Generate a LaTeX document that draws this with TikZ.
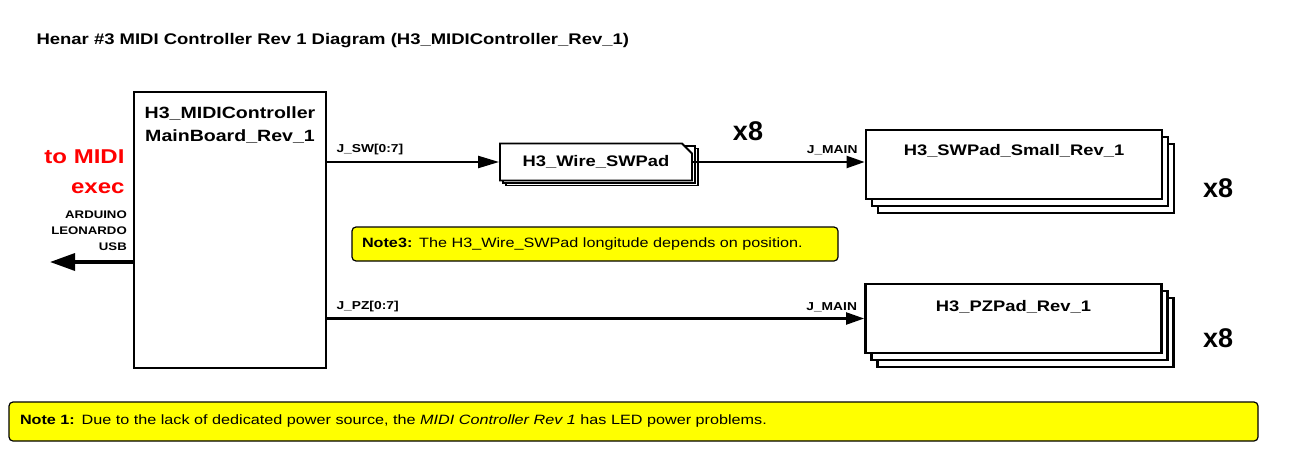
\documentclass[tikz,border=0pt]{standalone}
\usepackage{fontspec}
\setmainfont[FakeStretch=1.2]{Liberation Sans}
\newfontfamily\countfont{Liberation Sans}
\usetikzlibrary{arrows.meta,positioning,calc,shapes.misc}
\definecolor{NoteYellow}{HTML}{FFFF00}
\definecolor{MidiRed}{HTML}{FF0000}

\begin{document}
\begin{tikzpicture}[x=1pt,y=-1pt,
  board/.style={draw,line width=2.8pt,fill=white,inner sep=0pt},
  padbox/.style={board,minimum width=296pt,minimum height=69pt},
  wirecard/.style={draw,line width=1.8pt,fill=white,inner sep=0pt,
    chamfered rectangle,chamfered rectangle corners=north east,
    chamfered rectangle xsep=7pt,minimum width=192pt,minimum height=37pt},
  bus/.style={line width=2.2pt,-{Triangle[length=18pt,width=12pt]}},
  sig/.style={font=\bfseries\fontsize{11.5}{13}\selectfont,inner sep=2pt},
  count/.style={font=\countfont\bfseries\fontsize{27}{30}\selectfont},
  note/.style={draw,line width=1.2pt,fill=NoteYellow,rounded corners=4pt,
    align=left,font=\fontsize{13.5}{15}\selectfont}]
  \useasboundingbox (0,0) rectangle (1289,471);

  \node[anchor=base west,font=\bfseries\fontsize{15.4}{18}\selectfont] (title)
    at (33,44) {Henar \#3 MIDI Controller Rev 1 Diagram (H3\_MIDIController\_Rev\_1)};

  % main board
  \node[board,minimum width=192pt,minimum height=276pt] (main) at (230,230) {};
  \node[below=13pt of main.north,align=center,font=\bfseries\fontsize{16.3}{23}\selectfont]
    (maintxt) {H3\_MIDIController\\MainBoard\_Rev\_1};

  % usb side
  \coordinate (usbend) at (50,262);
  \draw[line width=3.4pt,-{Triangle[length=25pt,width=17pt]}] (main.west |- usbend) -- (usbend);
  \node[anchor=east,align=right,text=MidiRed,font=\bfseries\fontsize{20}{30}\selectfont]
    (midi) at (128,172) {to MIDI\\exec};
  \node[anchor=north east,align=right,inner sep=0pt,font=\bfseries\fontsize{11}{16}\selectfont]
    (usb) at (127,211) {ARDUINO\\LEONARDO\\USB};

  % wire card stack
  \foreach \k in {2,1}
    \node[wirecard] (wire\k) at (596+3*\k,162+2.5*\k) {};
  \node[wirecard,font=\bfseries\fontsize{15.3}{18}\selectfont] (wire) at (596,162) {H3\_Wire\_SWPad};

  % switch pad stack
  \foreach \k in {2,1}
    \node[padbox] (swpad\k) at (1014+6*\k,164.5+7*\k) {};
  \node[padbox,label={[anchor=north,yshift=-12pt,font=\bfseries\fontsize{15.3}{18}\selectfont]north:H3\_SWPad\_Small\_Rev\_1}]
    (swpad) at (1014,164.5) {};

  % piezo pad stack
  \foreach \k in {2,1}
    \node[padbox] (pzpad\k) at (1013.5+6*\k,318.5+7*\k) {};
  \node[padbox,label={[anchor=north,yshift=-14pt,font=\bfseries\fontsize{15.3}{18}\selectfont]north:H3\_PZPad\_Rev\_1}]
    (pzpad) at (1013.5,318.5) {};

  % connections
  \draw[bus,-{Triangle[length=21pt,width=12pt]}] (wire.west -| main.east) -- (wire.west)
    node[sig,pos=0,anchor=south west,xshift=6pt,yshift=4pt] (swlbl) {J\_SW[0:7]};
  \draw[bus] (wire.east) -- (wire.east -| swpad.west)
    node[sig,pos=1,anchor=south east,xshift=-4pt,yshift=4pt] (swmain) {J\_MAIN};
  \draw[bus] (pzpad.west -| main.east) -- (pzpad.west)
    node[sig,pos=0,anchor=south west,xshift=6pt,yshift=4pt] (pzlbl) {J\_PZ[0:7]}
    node[sig,pos=1,anchor=south east,xshift=-4pt,yshift=4pt] (pzmain) {J\_MAIN};

  \node[count] (cnt1) at (748,131) {x8};
  \node[count] (cnt2) at (1218,188) {x8};
  \node[count] (cnt3) at (1218,338) {x8};

  % notes
  \node[note,minimum height=34pt,text width=466pt,inner xsep=10pt] (note3) at (595,244)
    {\textbf{Note3:} The H3\_Wire\_SWPad longitude depends on position.};
  \node[note,minimum height=39pt,text width=1227pt,inner xsep=11pt] (note1) at (633.5,421.5)
    {\textbf{Note 1:} Due to the lack of dedicated power source, the \textit{MIDI Controller Rev 1} has LED power problems.};
\end{tikzpicture}
\end{document}
